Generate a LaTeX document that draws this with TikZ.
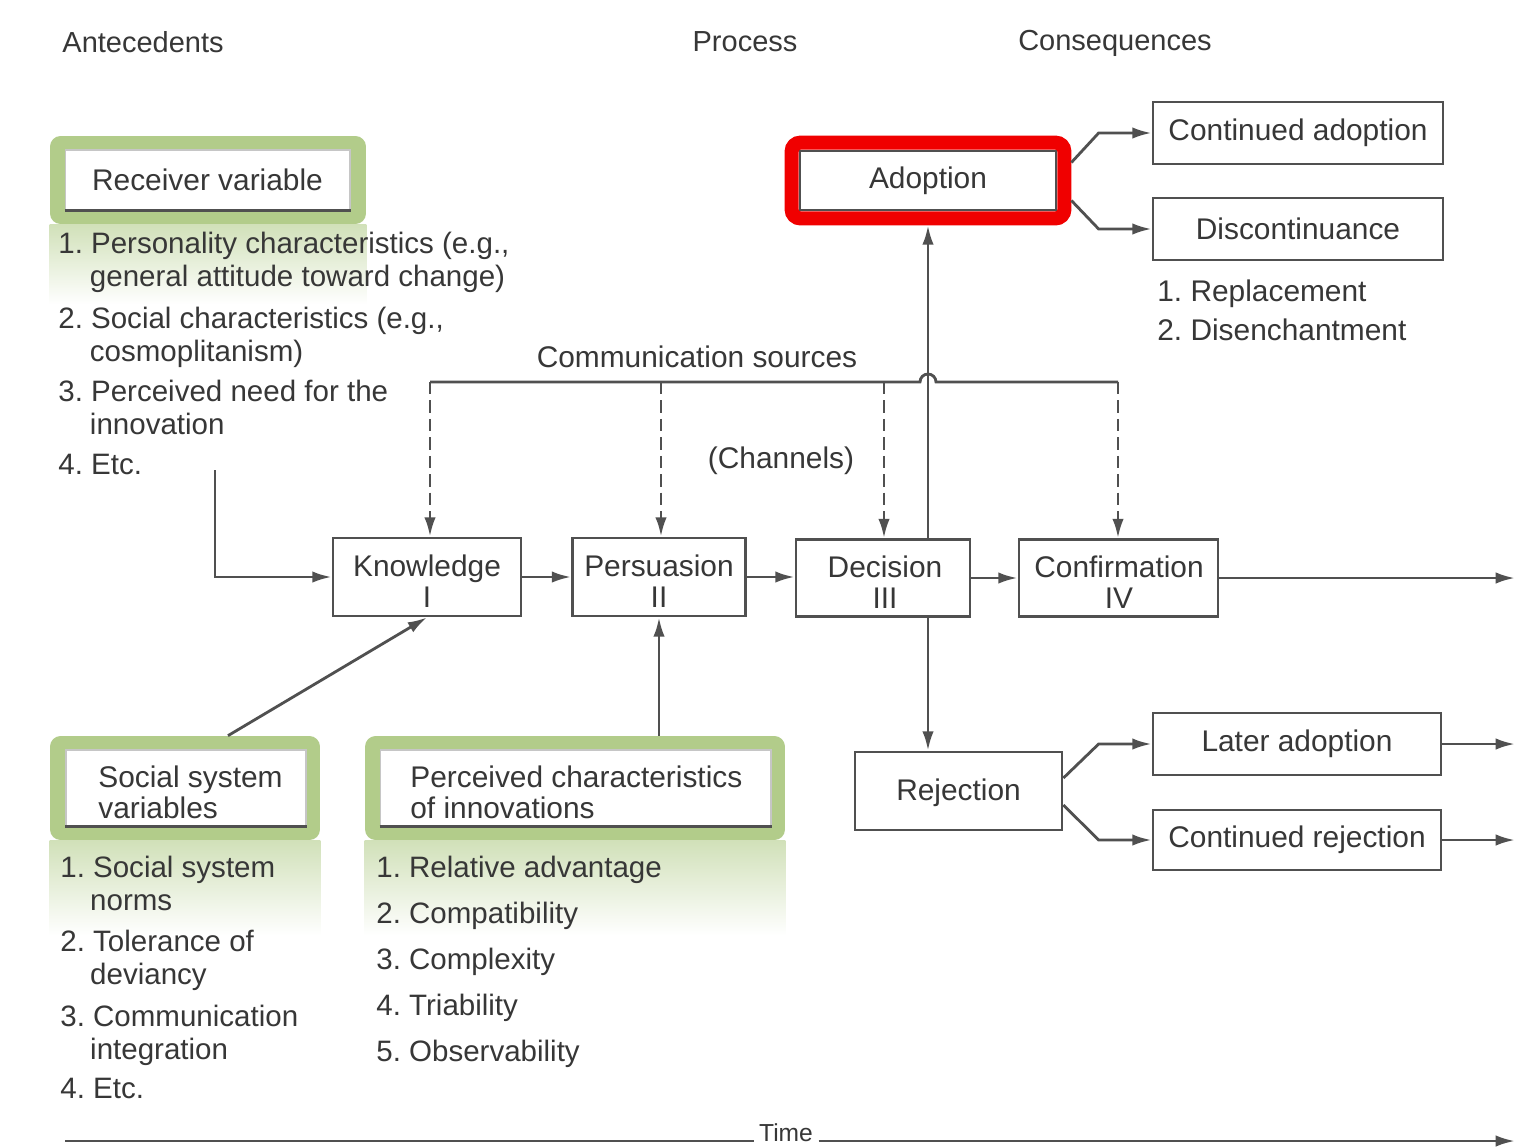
\documentclass[tikz,border=0pt]{standalone}
\usepackage{fontspec}
\setmainfont{Liberation Sans}
\frenchspacing
\usetikzlibrary{arrows.meta,fit}
\definecolor{txt}{RGB}{55,55,55}
\definecolor{edge}{RGB}{80,80,80}
\definecolor{grn}{RGB}{178,204,138}
\definecolor{redbox}{RGB}{240,0,0}
\tikzset{
  lbl/.style={font=\fontsize{17}{17.6}\selectfont, text=txt},
  hdr/.style={font=\fontsize{16.5}{18}\selectfont, text=txt},
  box/.style={draw=edge, line width=1.6pt, fill=white, align=center, inner sep=0pt, lbl},
  pbox/.style={box, text depth=-6pt},
  gout/.style={fill=grn, rounded corners=6pt, inner sep=0pt},
  gin/.style={fill=white, draw=gray!45, line width=0.6pt, inner sep=0pt},
  item/.style={anchor=north west, inner sep=0pt, align=left, font=\fontsize{16.8}{18.7}\selectfont, text=txt},
  conn/.style={draw=edge, line width=1.6pt},
  arr/.style={conn, -{Latex[length=11pt,width=6.5pt]}},
  darr/.style={arr, dash pattern=on 7pt off 3.5pt},
  fade/.style={top color=grn!60, bottom color=white, draw=none},
}
\begin{document}
\begin{tikzpicture}[x=0.02cm,y=-0.02cm]
\useasboundingbox[fill=white] (0,0) rectangle (1517,1147);

% headers
\node[hdr] (h1) at (143,42) {Antecedents};
\node[hdr] (h2) at (745,42) {Process};
\node[hdr] (h3) at (1115,43) {Consequences};

% ---------- Receiver variable ----------
\node[gout, minimum width=6.32cm, minimum height=1.76cm] (rvo) at (208,180) {};
\shade[fade] (rvo.south west) rectangle ([yshift=-1.6cm]rvo.south east);
\node[gin, minimum width=5.7cm, minimum height=1.2cm, lbl] (rvi) at (207.5,180) {Receiver variable};
\draw[conn] (rvi.south west) -- (rvi.south east);
\node[item] (r1) at (58,232) {1. Personality characteristics (e.g.,\\\hspace*{18pt}general attitude toward change)};
\node[item] (r2) at (58,307) {2. Social characteristics (e.g.,\\\hspace*{18pt}cosmoplitanism)};
\node[item] (r3) at (58,380) {3. Perceived need for the\\\hspace*{18pt}innovation};
\node[item] (r4) at (58,454) {4. Etc.};
\coordinate (rv) at (215,470);

% ---------- Social system variables ----------
\node[gout, minimum width=5.4cm, minimum height=2.08cm] (soc) at (185,788) {};
\shade[fade] (soc.south west) rectangle ([yshift=-1.9cm]soc.south east);
\node[gin, minimum width=4.8cm, minimum height=1.52cm] (soci) at (186,788) {};
\draw[conn] (soci.south west) -- (soci.south east);
\node[lbl, anchor=west, align=left, inner sep=0pt] (soct) at (98,792) {Social system\\variables};
\node[item] (s1) at (60,856) {1. Social system\\\hspace*{17pt}norms};
\node[item] (s2) at (60,930) {2. Tolerance of\\\hspace*{17pt}deviancy};
\node[item] (s3) at (60,1005) {3. Communication\\\hspace*{17pt}integration};
\node[item] (s4) at (60,1078) {4. Etc.};

% ---------- Perceived characteristics ----------
\node[gout, minimum width=8.4cm, minimum height=2.08cm] (perc) at (575,788) {};
\shade[fade] (perc.south west) rectangle ([yshift=-1.9cm]perc.south east);
\node[gin, minimum width=7.82cm, minimum height=1.52cm] (perci) at (575.5,788) {};
\draw[conn] (perci.south west) -- (perci.south east);
\node[lbl, anchor=west, align=left, inner sep=0pt] (perct) at (410,792) {Perceived characteristics\\of innovations};
\node[item] (p1) at (376,856) {1. Relative advantage};
\node[item] (p2) at (376,902) {2. Compatibility};
\node[item] (p3) at (376,948) {3. Complexity};
\node[item] (p4) at (376,994) {4. Triability};
\node[item] (p5) at (376,1040) {5. Observability};

% ---------- process boxes ----------
\node[box, minimum width=3.76cm, minimum height=1.56cm] (know) at (427,577) {};
\node[lbl, align=center] (knowt) at (427,581) {Knowledge\\I};
\node[box, minimum width=3.46cm, minimum height=1.56cm] (pers) at (659,577) {};
\node[lbl, align=center] (perst) at (659,581) {Persuasion\\II};
\node[box, minimum width=3.48cm, minimum height=1.54cm] (dec) at (883,578) {};
\node[lbl, align=center] (dect) at (885,582) {Decision\\III};
\node[box, minimum width=3.98cm, minimum height=1.54cm] (conf) at (1118.5,578) {};
\node[lbl, align=center] (conft) at (1119,582) {Confirmation\\IV};

% ---------- consequences ----------
\node[box, minimum width=5.12cm, minimum height=1.18cm] (adoptin) at (928,180.5) {Adoption};
\node[fit=(adoptin), inner sep=0.14cm, draw=redbox, line width=0.28cm, rounded corners=5pt] (adopt) {};
\node[box, minimum width=5.8cm, minimum height=1.24cm] (cad) at (1298,133) {Continued adoption};
\node[box, minimum width=5.8cm, minimum height=1.24cm] (disc) at (1298,229) {Discontinuance};
\node[lbl, anchor=west, inner sep=0pt] (d1) at (1157,294) {1. Replacement};
\node[lbl, anchor=west, inner sep=0pt] (d2) at (1157,330) {2. Disenchantment};

\node[box, minimum width=4.14cm, minimum height=1.56cm] (rej) at (958.5,791) {};
\node[lbl] (rejt) at (958.5,793) {Rejection};
\node[box, minimum width=5.76cm, minimum height=1.24cm] (lad) at (1297,744) {Later adoption};
\node[box, minimum width=5.76cm, minimum height=1.2cm] (crj) at (1297,840) {Continued rejection};

% ---------- communication sources ----------
\node[lbl] (cst) at (697,357) {Communication sources};
\node[lbl] (chan) at (781,461) {(Channels)};
\coordinate (cs1) at (430,382);
\coordinate (cs2) at (661,382);
\coordinate (cs3) at (884,382);
\coordinate (cs4) at (1118,382);
\draw[conn] (cs1) -- ([xshift=-0.16cm]adopt.south |- cs1) arc[start angle=180, end angle=0, radius=0.16cm] -- (cs4);
\draw[darr] (cs1) -- (cs1 |- know.north);
\draw[darr] (cs2) -- (cs2 |- pers.north);
\draw[darr] (cs3) -- (cs3 |- dec.north);
\draw[darr] (cs4) -- (cs4 |- conf.north);

% ---------- connectors ----------
\draw[arr] (rv) |- (know.west);
\draw[arr] (know.east) -- (pers.west |- know.east);
\draw[arr] (pers.east) -- (dec.west |- pers.east);
\draw[arr] (dec.east) -- (conf.west |- dec.east);
\coordinate (cend) at (1515,578);
\draw[arr] (conf.east) -- (cend);
\draw[arr] ([xshift=0.86cm]soc.north) -- (know.south);
\draw[arr] (pers.south |- perc.north) -- (pers.south);
\draw[arr] (adopt.south |- dec.north) -- (adopt.south);
\draw[arr] (adopt.south |- dec.south) -- (adopt.south |- rej.north);

\draw[arr] ([yshift=0.36cm]adopt.east) -- ([xshift=-1.06cm]cad.west) -- (cad.west);
\draw[arr] ([yshift=-0.4cm]adopt.east) -- ([xshift=-1.06cm]disc.west) -- (disc.west);
\draw[arr] ([yshift=0.26cm]rej.east) -- ([xshift=-1.06cm]lad.west) -- (lad.west);
\draw[arr] ([yshift=-0.28cm]rej.east) -- ([xshift=-1.06cm]crj.west) -- (crj.west);
\coordinate (lend) at (1515,744);
\coordinate (rend) at (1515,840);
\draw[arr] (lad.east) -- (lend);
\draw[arr] (crj.east) -- (rend);

% ---------- time ----------
\node[font=\fontsize{14}{15}\selectfont, text=txt, inner sep=3pt] (time) at (786,1133) {Time};
\coordinate (t0) at (65,1141);
\coordinate (t1) at (1515,1141);
\draw[conn] (t0) -- (time.west |- t0);
\draw[arr] (time.east |- t1) -- (t1);
\end{tikzpicture}
\end{document}
